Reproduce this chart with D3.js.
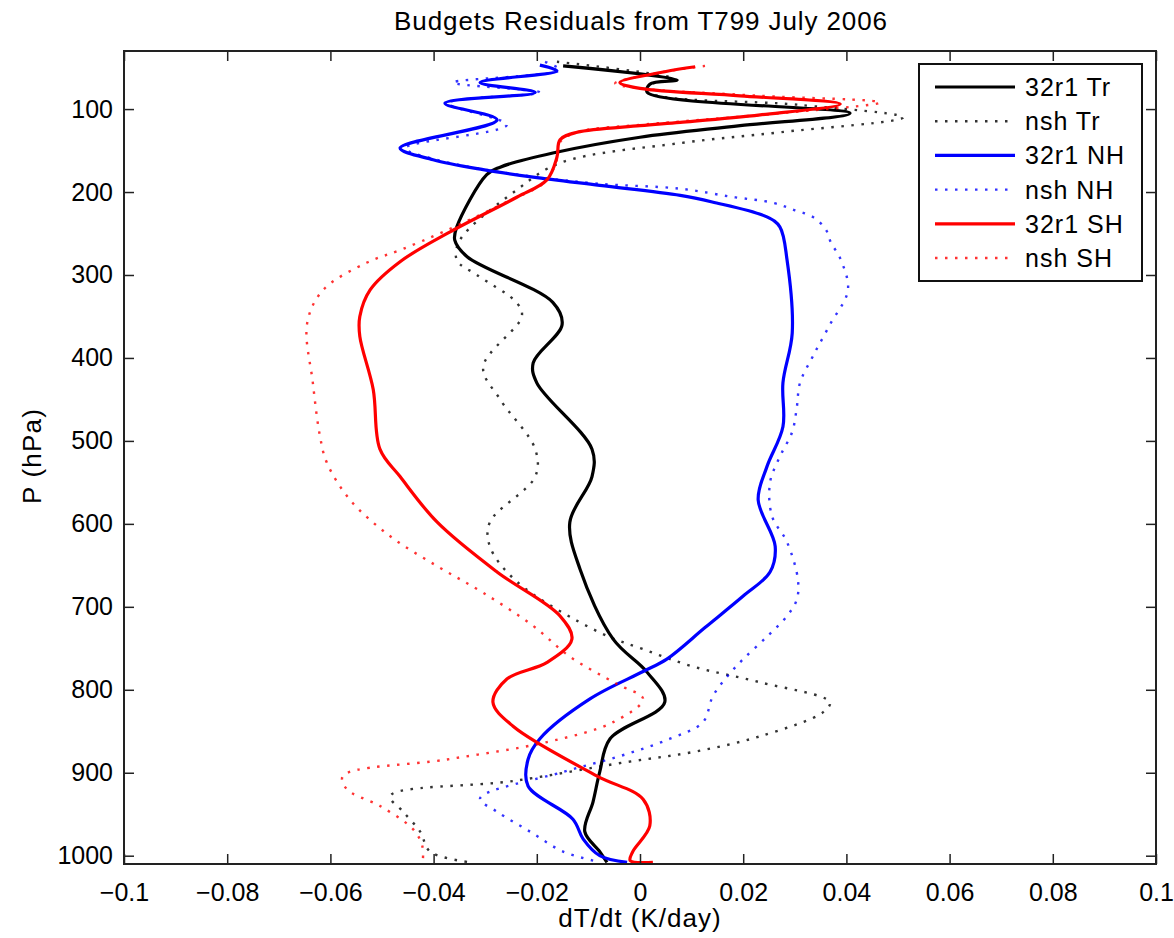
<!DOCTYPE html>
<html><head><meta charset="utf-8">
<script src="https://cdn.jsdelivr.net/npm/d3@7"></script>
<style>
body{margin:0;background:#fff}
text{font-family:"Liberation Sans",Arial,Helvetica,sans-serif;fill:#000}
</style>
</head><body>
<svg id="c" width="1174" height="938"></svg>
<script>
// ---- data (pressure in hPa, residual in K/day) ----
const tr32P = [48,65,70,80,105,120,134,153,170,179,242,258,278,333,360,406,430,510,543,598,655,739,779,815,859,899,935,971,995,1008];
const tr32V = [-0.0149,0.0072,0.0019,0.0014,0.0407,0.0194,0,-0.0169,-0.0271,-0.0297,-0.0355,-0.0359,-0.0335,-0.0169,-0.0151,-0.0207,-0.0200,-0.0093,-0.0093,-0.0136,-0.0116,-0.0052,0.0014,0.0048,-0.0058,-0.0078,-0.0091,-0.0107,-0.0078,-0.0064];

const trNshP = [43,64,71,80,95,110,128,141,165,197,258,282,300,334,350,411,450,510,543,598,627,670,731,751,772,791,815,827,856,875,887,910,928,947,971,995,1008];
const trNshV = [-0.0161,0.0068,0.0019,0.0019,0.031,0.0510,0.0271,0.0078,-0.0155,-0.0238,-0.0349,-0.0355,-0.0316,-0.0238,-0.0229,-0.0304,-0.0271,-0.0203,-0.0203,-0.0291,-0.0291,-0.0238,-0.0078,0.0006,0.0103,0.0233,0.0368,0.0355,0.0233,0.0103,-0.0025,-0.0246,-0.0484,-0.0459,-0.0426,-0.0407,-0.0329];

const nh32P = [47,54,68,80,93,113,147,161,173,182,192,204,212,230,242,282,370,430,483,531,571,627,658,687,725,763,778,811,859,884,916,956,980,1000,1008];
const nh32V = [-0.0194,-0.0161,-0.0310,-0.0203,-0.0378,-0.0277,-0.0465,-0.0401,-0.0304,-0.0207,-0.0078,0.0078,0.0140,0.0246,0.0271,0.0285,0.0295,0.0277,0.0277,0.0246,0.0229,0.0262,0.0252,0.0200,0.0126,0.0052,0.0006,-0.0097,-0.0194,-0.0217,-0.0217,-0.0130,-0.0110,-0.0078,-0.0025];

const nhNshP = [43,53,68,80,93,119,147,161,173,182,190,196,206,213,222,230,245,261,280,318,360,398,430,459,489,519,550,591,622,667,691,711,736,763,784,808,839,859,880,899,931,947,971,995,1007];
const nhNshV = [-0.0184,-0.0155,-0.0362,-0.0194,-0.0372,-0.0258,-0.0455,-0.0395,-0.0300,-0.0200,-0.0080,0.0078,0.0180,0.0258,0.0300,0.0335,0.0360,0.0370,0.0388,0.0403,0.0368,0.0335,0.0310,0.0304,0.0295,0.0271,0.0252,0.0256,0.0285,0.0306,0.0304,0.0285,0.0246,0.0200,0.0169,0.0141,0.0122,0.0058,-0.0039,-0.0149,-0.0310,-0.0277,-0.0213,-0.0149,-0.0083];

const sh32P = [49,55,68,75,84,94,107,116,120,128,137,158,185,206,248,284,318,350,374,438,510,543,598,658,711,739,767,787,815,844,904,932,964,995,1006,1008];
const sh32V = [0.0107,0.0048,-0.0039,0,0.0194,0.0388,0.0233,0.0078,0,-0.0122,-0.0155,-0.0161,-0.0180,-0.0238,-0.0368,-0.0465,-0.0523,-0.0543,-0.0543,-0.0517,-0.0504,-0.0465,-0.0393,-0.0277,-0.0155,-0.0132,-0.0180,-0.0258,-0.0285,-0.0246,-0.0083,0.0006,0.0019,-0.0014,-0.0019,0.0025];

const shNshP = [48,55,69,75,84,92,105,115,119,128,140,161,188,210,246,270,285,318,358,430,495,526,571,615,651,683,723,760,793,811,839,863,884,904,920,940,968,988,1008];
const shNshV = [0.0126,0.0048,-0.0048,0,0.0233,0.0465,0.0271,0.0078,0,-0.0122,-0.0155,-0.0161,-0.0184,-0.0252,-0.0374,-0.0465,-0.0529,-0.0614,-0.0645,-0.0634,-0.0620,-0.0607,-0.0562,-0.0484,-0.0393,-0.0304,-0.0207,-0.0136,-0.0045,0.0006,-0.0052,-0.0180,-0.0374,-0.0576,-0.0568,-0.0504,-0.0440,-0.0422,-0.0421];

const seriesNames = ["32r1 Tr","nsh Tr","32r1 NH","nsh NH","32r1 SH","nsh SH"];
const seriesColors = ["#000000","#000000","#0000ff","#0000ff","#ff0000","#ff0000"];
const seriesDotted = [false,true,false,true,false,true];
const seriesP = [tr32P,trNshP,nh32P,nhNshP,sh32P,shNshP];
const seriesV = [tr32V,trNshV,nh32V,nhNshV,sh32V,shNshV];

const xTicks = [-0.1,-0.08,-0.06,-0.04,-0.02,0,0.02,0.04,0.06,0.08,0.1];
const xTickLabels = ["\u22120.1","\u22120.08","\u22120.06","\u22120.04","\u22120.02","0","0.02","0.04","0.06","0.08","0.1"];
const yTicks = [100,200,300,400,500,600,700,800,900,1000];

const titleText = "Budgets Residuals from T799 July 2006";
const xLabel = "dT/dt (K/day)";
const yLabel = "P (hPa)";

// ---- layout ----
const m = {left:124, right:1156, top:51, bottom:864};
const svg = d3.select("#c");
const x = d3.scaleLinear().domain([-0.1,0.1]).range([m.left,m.right]);
const y = d3.scaleLinear().domain([30,1010]).range([m.top,m.bottom]);

svg.append("defs").append("clipPath").attr("id","clip")
  .append("rect").attr("x",m.left).attr("y",m.top)
  .attr("width",m.right-m.left).attr("height",m.bottom-m.top);

// lines
const line = d3.line().x(d=>x(d[1])).y(d=>y(d[0])).curve(d3.curveCatmullRom.alpha(0.5));
const g = svg.append("g").attr("clip-path","url(#clip)");
seriesNames.forEach((n,i)=>{
  const data = seriesP[i].map((p,k)=>[p, seriesV[i][k]]);
  g.append("path").datum(data).attr("d",line)
    .attr("fill","none").attr("stroke",seriesColors[i])
    .attr("stroke-width",seriesDotted[i]?2.4:3.2)
    .attr("stroke-dasharray",seriesDotted[i]?"2.5,7.5":null)
    .attr("stroke-linejoin","round")
    .attr("opacity",seriesDotted[i]?0.8:1);
});

// axes
const fs = 25;
const axB = svg.append("g").attr("transform",`translate(0,${m.bottom})`)
  .call(d3.axisBottom(x).tickValues(xTicks).tickSizeInner(-10).tickSizeOuter(0).tickPadding(19)
        .tickFormat((d,i)=>xTickLabels[i]));
const axT = svg.append("g").attr("transform",`translate(0,${m.top})`)
  .call(d3.axisTop(x).tickValues(xTicks).tickSizeInner(-10).tickSizeOuter(0).tickFormat(""));
const axL = svg.append("g").attr("transform",`translate(${m.left},0)`)
  .call(d3.axisLeft(y).tickValues(yTicks).tickSizeInner(-10).tickSizeOuter(0).tickPadding(11)
        .tickFormat(d=>String(d)));
const axR = svg.append("g").attr("transform",`translate(${m.right},0)`)
  .call(d3.axisRight(y).tickValues(yTicks).tickSizeInner(-10).tickSizeOuter(0).tickFormat(""));
[axB,axT,axL,axR].forEach(a=>{
  a.select(".domain").remove();
  a.selectAll(".tick line").attr("stroke","#222").attr("stroke-width",1.5);
  a.selectAll(".tick text").attr("font-size",fs).attr("font-family","'Liberation Sans',Arial,sans-serif").attr("fill","#000");
});
svg.append("rect").attr("x",m.left).attr("y",m.top)
  .attr("width",m.right-m.left).attr("height",m.bottom-m.top)
  .attr("fill","none").attr("stroke","#222").attr("stroke-width",2);

// title & labels
svg.append("text").attr("x",641).attr("y",30).attr("text-anchor","middle")
  .attr("font-size",26).attr("letter-spacing","0.9px").text(titleText);
svg.append("text").attr("x",640).attr("y",927).attr("text-anchor","middle")
  .attr("font-size",26).attr("letter-spacing","1px").text(xLabel);
svg.append("text").attr("transform","translate(41,456) rotate(-90)").attr("text-anchor","middle")
  .attr("font-size",26).attr("letter-spacing","1.2px").text(yLabel);

// legend
const lg = svg.append("g");
lg.append("rect").attr("x",919).attr("y",64).attr("width",223).attr("height",217)
  .attr("fill","#fff").attr("stroke","#111").attr("stroke-width",2);
const rowY = d3.scalePoint().domain(seriesNames).range([87,258]);
seriesNames.forEach((n,i)=>{
  const yy = rowY(n);
  lg.append("line").attr("x1",935).attr("x2",1015).attr("y1",yy).attr("y2",yy)
    .attr("stroke",seriesColors[i]).attr("stroke-width",seriesDotted[i]?2.4:3.2)
    .attr("stroke-dasharray",seriesDotted[i]?"2.5,7.5":null)
    .attr("opacity",seriesDotted[i]?0.8:1);
  lg.append("text").attr("x",1025).attr("y",yy).attr("dy","0.36em")
    .attr("font-size",25).attr("letter-spacing","1px").text(n);
});
</script>
</body></html>
